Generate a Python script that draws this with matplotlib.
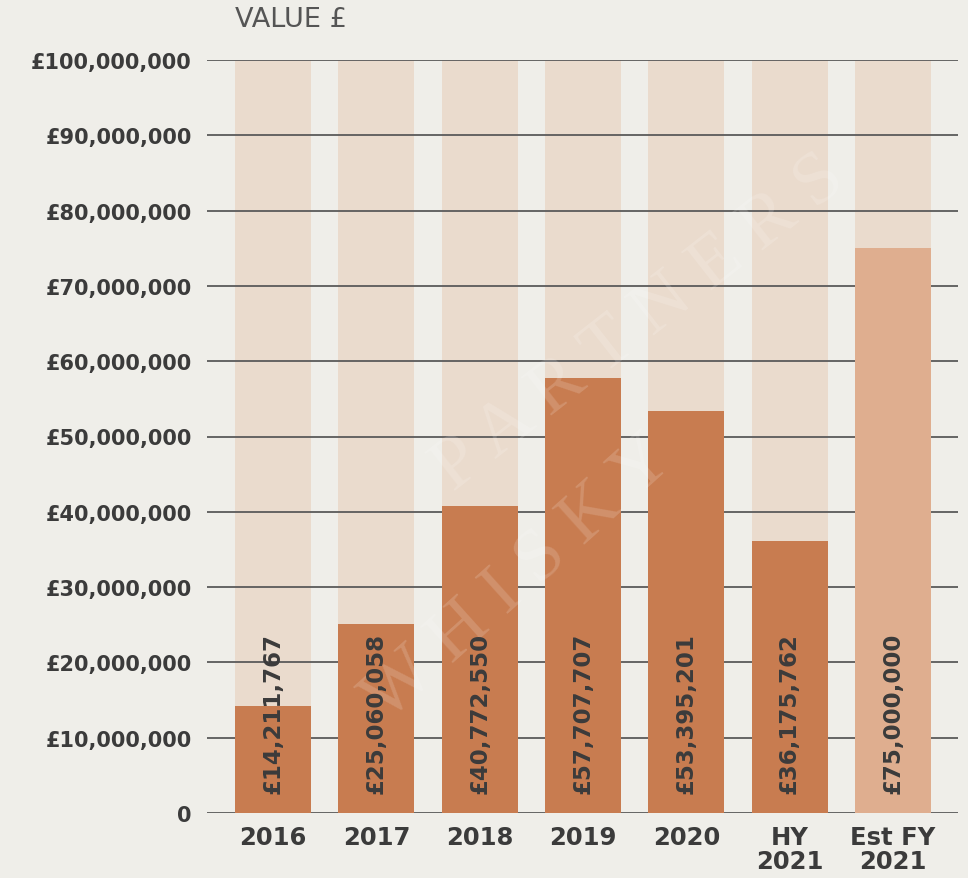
import matplotlib
matplotlib.use('Agg')
import matplotlib.pyplot as plt
from matplotlib.ticker import FuncFormatter

# data
periods = ['2016', '2017', '2018', '2019', '2020', 'HY\n2021', 'Est FY\n2021']
values = [14211767, 25060058, 40772550, 57707707, 53395201, 36175762, 75000000]
is_estimate = [False, False, False, False, False, False, True]
y_ticks = [0, 10e6, 20e6, 30e6, 40e6, 50e6, 60e6, 70e6, 80e6, 90e6, 100e6]
y_max = 100e6

bg = '#efeee9'
track_col = '#ead8c9'
bar_col = '#c87c50'
est_col = '#dfae8f'
text_col = '#3b3b3b'

plt.rcParams['font.family'] = ['DejaVu Sans']

fig = plt.figure(figsize=(9.68, 8.79), dpi=100, facecolor=bg)
ax = fig.add_axes([207 / 968, 65 / 879, 751 / 968, 753 / 879])
ax.set_facecolor(bg)

x = list(range(len(periods)))
w = 0.735

# full height background tracks
ax.bar(x, [y_max] * len(x), width=w, color=track_col, alpha=0.85, zorder=1)
# gridlines
for t in y_ticks:
    ax.axhline(t, color='#5a5a5a', lw=1.3, zorder=2)
cols = [est_col if e else bar_col for e in is_estimate]
ax.bar(x, values, width=w, color=cols, zorder=3)

for xi, v in zip(x, values):
    ax.text(xi, 2.6e6, '£{:,}'.format(v), rotation=90, ha='center', va='bottom',
            fontsize=16.5, fontweight='bold', color=text_col, zorder=5)

# faint watermark
ax.text(2.39, 31e6, 'W H I S K Y', rotation=42, ha='center', va='center', fontsize=54,
        family='Liberation Serif', color='white', alpha=0.16, zorder=4)
ax.text(3.55, 65e6, 'P A R T N E R S', rotation=38, ha='center', va='center', fontsize=54,
        family='Liberation Serif', color='white', alpha=0.16, zorder=4)

ax.set_xlim(-0.64, 6.63)
ax.set_ylim(0, y_max)
ax.set_yticks(y_ticks)
ax.yaxis.set_major_formatter(FuncFormatter(lambda v, p: '0' if v == 0 else '£{:,.0f}'.format(v)))
ax.set_xticks(x)
ax.set_xticklabels(periods, fontsize=17.5, fontweight='bold', color=text_col, linespacing=1.0)
for lab in ax.get_yticklabels():
    lab.set_fontsize(15)
    lab.set_fontweight('bold')
    lab.set_color(text_col)
ax.tick_params(axis='y', length=0, pad=11)
ax.tick_params(axis='x', length=0, pad=9)
for s in ax.spines.values():
    s.set_visible(False)

fig.text(235 / 968, 1 - 20 / 879, 'VALUE £', fontsize=19.5, color='#555555', va='center', ha='left')

fig.savefig('out.png', dpi=100, facecolor=bg)
